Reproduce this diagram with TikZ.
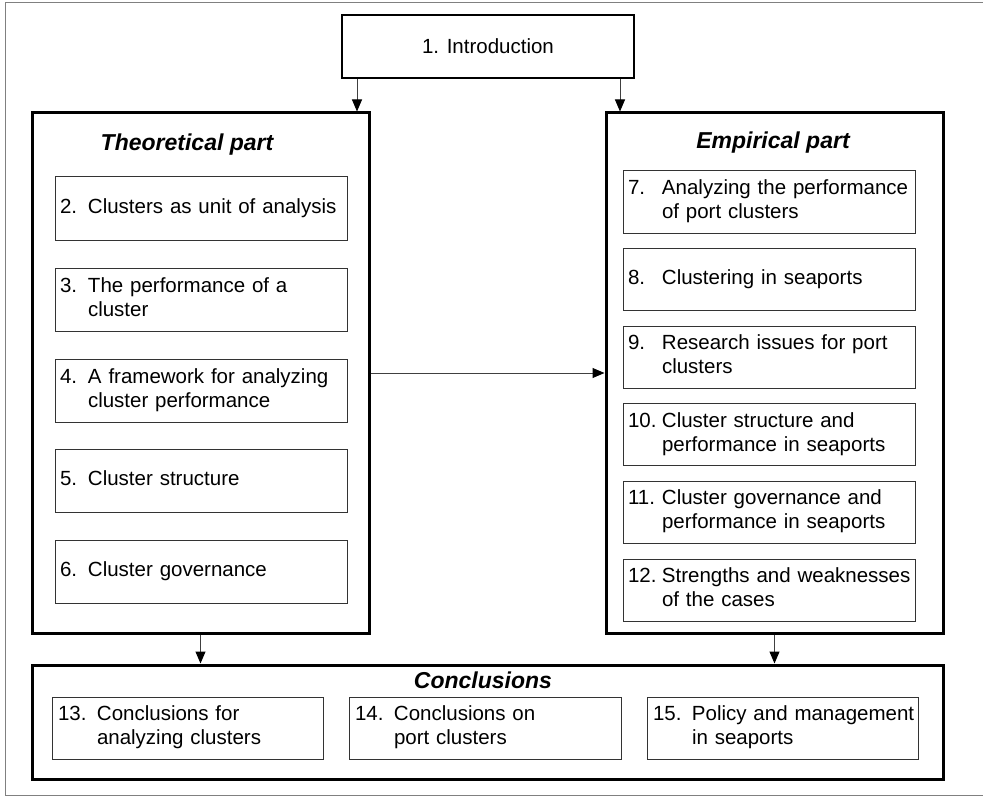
\documentclass[tikz,border=0pt]{standalone}
\usepackage{fontspec}
\setmainfont{Liberation Sans}
\usetikzlibrary{arrows.meta}
% numbered entry with a hanging indent: #1 = width of the number column
\newcommand{\chapentry}[3]{\begin{tabular}{@{}p{#1}@{}l@{}}#2&#3\end{tabular}}

\begin{document}
\begin{tikzpicture}[x=1pt,y=-1pt,
  every node/.style={font=\fontsize{20.5}{24}\selectfont},
  partbox/.style={draw=black, line width=3pt, inner sep=0pt},
  introbox/.style={draw=black, line width=2pt, minimum width=292pt, minimum height=63pt, inner sep=0pt},
  leftbox/.style={draw=black!80, line width=1pt, text width=282pt, inner xsep=5pt, inner ysep=0pt,
                  minimum height=63pt, align=left},
  rightbox/.style={leftbox, minimum height=62pt},
  bottombox/.style={draw=black!80, line width=1pt, text width=259pt, inner xsep=6pt, inner ysep=0pt,
                  minimum height=62pt, align=left},
  parttitle/.style={font=\fontsize{23}{27}\selectfont\bfseries\itshape, inner sep=0pt},
  arr/.style={draw=black!75, line width=1pt, -{Triangle[length=12pt,width=10pt,color=black]}}
]
\useasboundingbox (0,0) rectangle (983,797);

% outer frame
\draw[black!50, line width=1pt] (990,3) -- (5,3) -- (5,795) -- (990,795);

% introduction
\node[introbox] (intro) at (488,46.5) {1. Introduction};

% theoretical part
\node[partbox, minimum width=337pt, minimum height=520pt] (theo) at (200.5,373) {};
\node[parttitle] (theotitle) at (187,145) {Theoretical part};
\node[leftbox] (c2) at (201,208.5) {\chapentry{28pt}{2.}{Clusters as unit of analysis}};
\node[leftbox] (c3) at (201,299.5) {\chapentry{28pt}{3.}{The performance of a\\&cluster}};
\node[leftbox] (c4) at (201,390.5) {\chapentry{28pt}{4.}{A framework for analyzing\\&cluster performance}};
\node[leftbox] (c5) at (201,480.5) {\chapentry{28pt}{5.}{Cluster structure}};
\node[leftbox] (c6) at (201,571.5) {\chapentry{28pt}{6.}{Cluster governance}};

% empirical part
\node[partbox, minimum width=337pt, minimum height=520pt] (emp) at (774.5,373) {};
\node[parttitle] (emptitle) at (773,143) {Empirical part};
\node[rightbox] (c7) at (769,202) {\chapentry{34pt}{7.}{Analyzing the performance\\&of port clusters}};
\node[rightbox] (c8) at (769,279.5) {\chapentry{34pt}{8.}{Clustering in seaports}};
\node[rightbox] (c9) at (769,357) {\chapentry{34pt}{9.}{Research issues for port\\&clusters}};
\node[rightbox] (c10) at (769,434.5) {\chapentry{34pt}{10.}{Cluster structure and\\&performance in seaports}};
\node[rightbox] (c11) at (769,512) {\chapentry{34pt}{11.}{Cluster governance and\\&performance in seaports}};
\node[rightbox] (c12) at (769,590) {\chapentry{34pt}{12.}{Strengths and weaknesses\\&of the cases}};

% conclusions
\node[partbox, minimum width=911pt, minimum height=114pt] (concl) at (487.5,722) {};
\node[parttitle] (concltitle) at (483,680) {Conclusions};
\node[bottombox, text width=259pt] (c13) at (187.5,728) {\chapentry{39pt}{13.}{Conclusions for\\&analyzing clusters}};
\node[bottombox, text width=260pt] (c14) at (485,728) {\chapentry{39pt}{14.}{Conclusions on\\&port clusters}};
\node[bottombox, text width=259pt] (c15) at (782.5,728) {\chapentry{39pt}{15.}{Policy and management\\&in seaports}};

% connectors
\coordinate (a1) at (357,0);
\coordinate (a2) at (620,0);
\draw[arr] (a1 |- intro.south) -- (a1 |- theo.north);
\draw[arr] (a2 |- intro.south) -- (a2 |- emp.north);
\draw[arr] (theo.east) -- (emp.west);
\draw[arr] (theo.south) -- (theo.south |- concl.north);
\draw[arr] (emp.south) -- (emp.south |- concl.north);
\end{tikzpicture}
\end{document}
